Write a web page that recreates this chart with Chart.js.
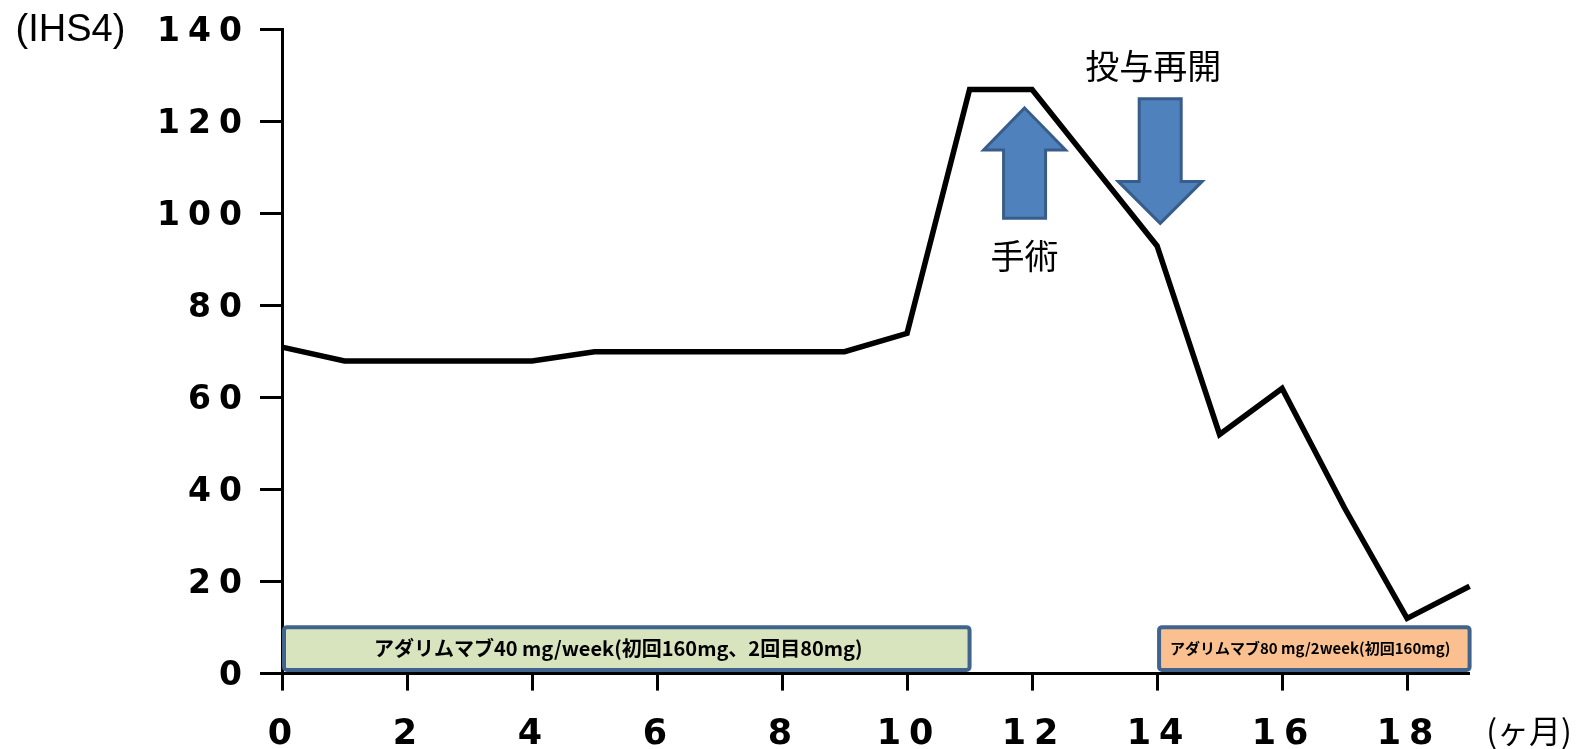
<!DOCTYPE html>
<html>
<head>
<meta charset="utf-8">
<script src="https://cdn.jsdelivr.net/npm/chart.js@4.4.1/dist/chart.umd.min.js"></script>
<style>
  html, body { margin: 0; padding: 0; background: #ffffff; }
  #wrap { width: 1581px; height: 749px; }
</style>
</head>
<body>
<div id="wrap"><canvas id="chart" width="1581" height="749"></canvas></div>
<script>
// IHS4 score by month
const months = [0, 1, 2, 3, 4, 5, 6, 7, 8, 9, 10, 11, 12, 13, 14, 15, 16, 17, 18, 19];
const ihs4 = [71, 68, 68, 68, 68, 70, 70, 70, 70, 70, 74, 127, 127, 110, 93, 52, 62, 36, 12, 19];

// axis ticks
const xTickValues = [0, 2, 4, 6, 8, 10, 12, 14, 16, 18];
const yTickValues = [0, 20, 40, 60, 80, 100, 120, 140];

// treatment periods (months)
const treatmentLabels = ['アダリムマブ40 mg/week(初回160mg、2回目80mg)', 'アダリムマブ80 mg/2week(初回160mg)'];
const treatmentStart = [0, 14];
const treatmentEnd = [11, 19];

// events marked with arrows
const eventLabels = ['手術', '投与再開'];
const eventMonths = [11.88, 14.05];

const AXIS_TITLE_Y = '(IHS4)';
const AXIS_TITLE_X = '(ヶ月)';

// wide digit spacing for the tick labels
const tickSpacing = {
  id: 'tickSpacing',
  beforeDraw(chart) { chart.ctx.letterSpacing = '8px'; },
  beforeDatasetsDraw(chart) { chart.ctx.letterSpacing = '0px'; }
};

// treatment bars along the bottom of the plot
const treatmentBars = {
  id: 'treatmentBars',
  beforeDatasetsDraw(chart) {
    const { ctx, scales: { x, y } } = chart;
    const styles = [
      { fill: '#d7e4bd', font: 'bold 20px "Noto Sans CJK JP"', textX: 5.38 },
      { fill: '#fac090', font: 'bold 15px "Noto Sans CJK JP"', textX: 16.45 }
    ];
    ctx.save();
    treatmentLabels.forEach((label, i) => {
      const left = x.getPixelForValue(treatmentStart[i]) + 2;
      const right = x.getPixelForValue(treatmentEnd[i]);
      const top = y.getPixelForValue(10.1);
      const bottom = y.getPixelForValue(0.8);
      ctx.beginPath();
      ctx.roundRect(left, top, right - left, bottom - top, 3);
      ctx.fillStyle = styles[i].fill;
      ctx.fill();
      ctx.lineWidth = 4;
      ctx.strokeStyle = '#41648f';
      ctx.stroke();
      ctx.fillStyle = '#000000';
      ctx.font = styles[i].font;
      ctx.textAlign = 'center';
      ctx.textBaseline = 'middle';
      ctx.fillText(label, x.getPixelForValue(styles[i].textX), (top + bottom) / 2);
    });
    ctx.restore();
  }
};

// block arrow: shaft from `yFrom` to the head tip at `yTip` (pixels)
function blockArrow(ctx, cx, yFrom, yTip, headLen, headHalf, shaftHalf) {
  const dir = yTip < yFrom ? -1 : 1;
  const headBase = yTip - dir * headLen;
  ctx.beginPath();
  ctx.moveTo(cx, yTip);
  ctx.lineTo(cx + headHalf, headBase);
  ctx.lineTo(cx + shaftHalf, headBase);
  ctx.lineTo(cx + shaftHalf, yFrom);
  ctx.lineTo(cx - shaftHalf, yFrom);
  ctx.lineTo(cx - shaftHalf, headBase);
  ctx.lineTo(cx - headHalf, headBase);
  ctx.closePath();
  ctx.fillStyle = '#4f81bd';
  ctx.fill();
  ctx.lineWidth = 3;
  ctx.lineJoin = 'miter';
  ctx.strokeStyle = '#385d8a';
  ctx.stroke();
}

const eventMarks = {
  id: 'eventMarks',
  afterDatasetsDraw(chart) {
    const { ctx, scales: { x, y } } = chart;
    ctx.save();
    // surgery: upward arrow with label below
    const cx0 = x.getPixelForValue(eventMonths[0]);
    blockArrow(ctx, cx0, y.getPixelForValue(99), y.getPixelForValue(123), 42, 41, 21);
    // treatment resumed: downward arrow with label above
    const cx1 = x.getPixelForValue(eventMonths[1]);
    blockArrow(ctx, cx1, y.getPixelForValue(125), y.getPixelForValue(97.9), 42, 42, 21);

    ctx.fillStyle = '#000000';
    ctx.font = '34px "Noto Sans CJK JP"';
    ctx.textAlign = 'center';
    ctx.textBaseline = 'middle';
    ctx.fillText(eventLabels[0], cx0, y.getPixelForValue(90.9));
    ctx.fillText(eventLabels[1], x.getPixelForValue(13.94), y.getPixelForValue(132.1));

    // axis titles
    ctx.font = '38px "Liberation Sans"';
    ctx.textBaseline = 'alphabetic';
    ctx.fillText(AXIS_TITLE_Y, 70.5, 41);
    ctx.font = '32px "Noto Sans CJK JP"';
    ctx.textBaseline = 'middle';
    ctx.fillText(AXIS_TITLE_X, 1529, 731);
    ctx.restore();
  }
};

new Chart(document.getElementById('chart'), {
  type: 'line',
  data: {
    labels: months,
    datasets: [{
      data: months.map((m, i) => ({ x: m, y: ihs4[i] })),
      borderColor: '#000000',
      borderWidth: 5.5,
      borderJoinStyle: 'miter',
      pointRadius: 0,
      tension: 0,
      fill: false,
      clip: false
    }]
  },
  options: {
    responsive: false,
    animation: false,
    devicePixelRatio: 1,
    layout: { padding: { top: 27.2, right: 111.4, bottom: 0, left: 0 } },
    plugins: { legend: { display: false }, tooltip: { enabled: false } },
    scales: {
      x: {
        type: 'linear',
        min: 0,
        max: 19,
        afterBuildTicks: s => { s.ticks = xTickValues.map(v => ({ value: v })); },
        afterFit: s => { s.height = 75.4; },
        grid: { drawOnChartArea: false, drawTicks: true, tickLength: 17, tickWidth: 3, tickColor: '#000000' },
        border: { display: true, color: '#000000', width: 3 },
        ticks: {
          color: '#000000',
          font: { family: 'DejaVu Sans', weight: 'bold', size: 35 },
          padding: 23,
          labelOffset: 2,
          maxRotation: 0,
          autoSkip: false
        }
      },
      y: {
        type: 'linear',
        min: 0,
        max: 140,
        afterBuildTicks: s => { s.ticks = yTickValues.map(v => ({ value: v })); },
        afterFit: s => { s.width = 282; },
        grid: { drawOnChartArea: false, drawTicks: true, tickLength: 22, tickWidth: 3, tickColor: '#000000' },
        border: { display: true, color: '#000000', width: 3 },
        ticks: {
          color: '#000000',
          font: { family: 'DejaVu Sans', weight: 'bold', size: 33 },
          padding: 10,
          labelOffset: 3,
          autoSkip: false
        }
      }
    }
  },
  plugins: [tickSpacing, treatmentBars, eventMarks]
});
</script>
</body>
</html>
